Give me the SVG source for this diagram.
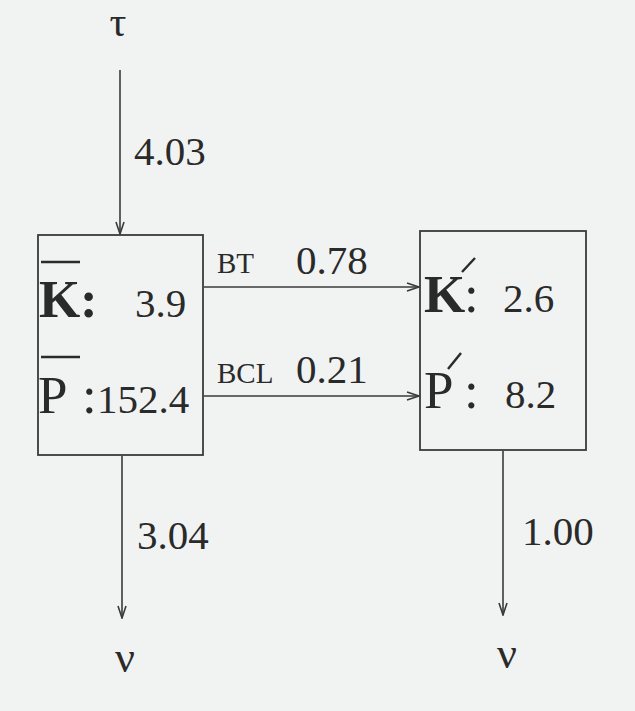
<svg xmlns="http://www.w3.org/2000/svg" width="635" height="711" viewBox="0 0 635 711">
<style>
.ln{stroke:#3a3a3a;stroke-width:1.6;fill:none}
.bar{stroke:#2a2a2a;stroke-width:2.4;fill:none}
.box{stroke:#3a3a3a;stroke-width:1.8;fill:none}
.t{font-family:"Liberation Serif","Times New Roman",serif;fill:#2a2a2a}
.num{font-size:41px}
.small{font-size:29px}
.big{font-size:53px}
</style>
<defs>
<marker id="ah" markerWidth="14" markerHeight="10" refX="13" refY="5" orient="auto" markerUnits="userSpaceOnUse">
<path d="M1,1 L13,5 L1,9" fill="none" stroke="#3a3a3a" stroke-width="1.6"/>
</marker>
</defs>
<rect width="635" height="711" fill="#f1f3f2"/>
<g id="connectors">
<line class="ln" x1="120" y1="70" x2="120" y2="234" marker-end="url(#ah)"/>
<line class="ln" x1="122" y1="456" x2="122" y2="618" marker-end="url(#ah)"/>
<line class="ln" x1="503" y1="451" x2="503" y2="615" stroke-width="2" marker-end="url(#ah)"/>
<line class="ln" x1="204" y1="287" x2="419" y2="287" marker-end="url(#ah)"/>
<line class="ln" x1="204" y1="396" x2="419" y2="396" stroke-width="2" marker-end="url(#ah)"/>
<text class="t num" x="134" y="165">4.03</text>
<text class="t num" x="137" y="549">3.04</text>
<text class="t num" x="522" y="545">1.00</text>
<text class="t small" x="217" y="273">BT</text>
<text class="t num" x="296" y="274">0.78</text>
<text class="t small" x="217" y="383">BCL</text>
<text class="t num" x="296" y="383">0.21</text>
</g>
<g id="tau"><text class="t" font-size="42" x="118" y="36" text-anchor="middle">τ</text></g>
<g id="nu-left"><text class="t" font-size="44" x="125" y="672" text-anchor="middle">ν</text></g>
<g id="nu-right"><text class="t" font-size="44" x="507" y="668" text-anchor="middle">ν</text></g>
<g id="box-left">
<rect class="box" x="38" y="235" width="165" height="220"/>
<line class="bar" x1="41" y1="262" x2="80" y2="262"/>
<text class="t big" x="39" y="317" font-weight="bold">K</text>
<text class="t big" x="80" y="317" font-weight="bold">:</text>
<text class="t num" x="135" y="317">3.9</text>
<line class="bar" x1="41" y1="357" x2="80" y2="357"/>
<text class="t big" x="38" y="413">P</text>
<text class="t big" x="82" y="413">:</text>
<text class="t num" x="97" y="413">152.4</text>
</g>
<g id="box-right">
<rect class="box" x="420" y="231" width="166" height="219"/>
<text class="t big" x="424" y="312" font-weight="bold">K</text>
<line class="bar" x1="462" y1="272" x2="475" y2="258"/>
<text class="t big" x="464" y="312">:</text>
<text class="t num" x="503" y="312">2.6</text>
<text class="t big" x="424" y="408">P</text>
<line class="bar" x1="448" y1="369" x2="461" y2="353"/>
<text class="t big" x="464" y="408">:</text>
<text class="t num" x="505" y="408">8.2</text>
</g>
</svg>
